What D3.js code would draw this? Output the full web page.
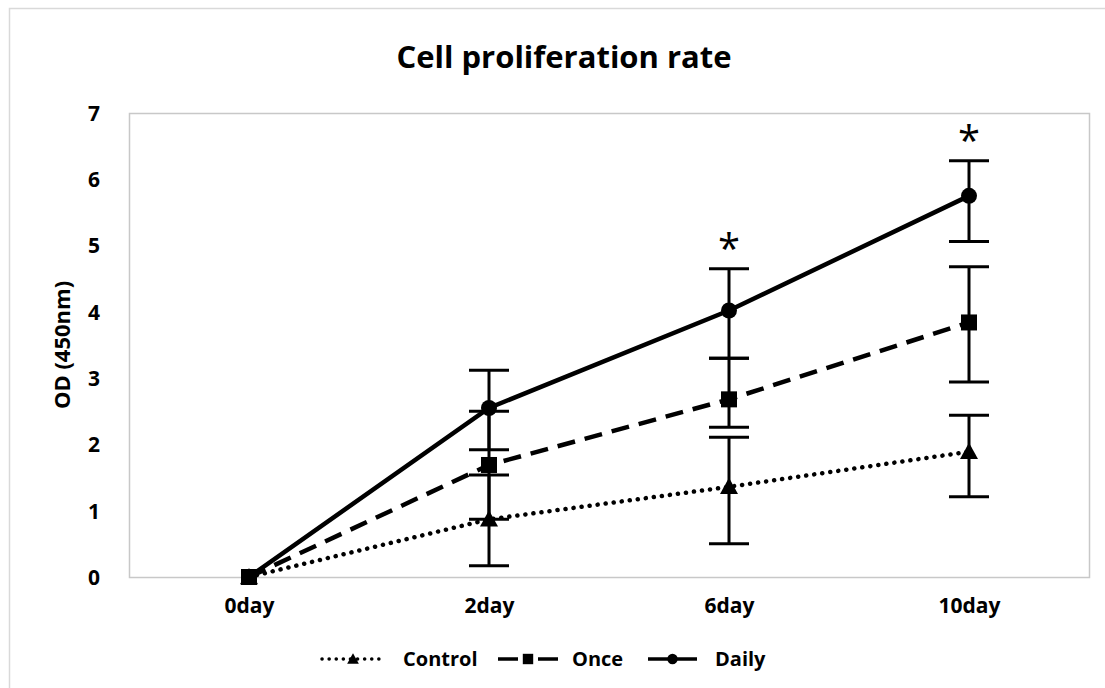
<!DOCTYPE html>
<html>
<head>
<meta charset="utf-8">
<script src="https://cdn.jsdelivr.net/npm/d3@7"></script>
<style>
  html, body { margin: 0; padding: 0; background: #fff; }
  svg { display: block; }
  text { font-family: "Open Sans", "Noto Sans", sans-serif; font-weight: 700; fill: #000; }
</style>
</head>
<body>
<svg id="chart" width="1105" height="688"></svg>
<script>
// ---- data ----
const categories = ["0day", "2day", "6day", "10day"];
const yTicks = [0, 1, 2, 3, 4, 5, 6, 7];

const controlMean = [0, 0.87, 1.36, 1.89];
const controlHigh = [0, 1.54, 2.11, 2.44];
const controlLow  = [0, 0.17, 0.50, 1.21];

const onceMean = [0, 1.69, 2.68, 3.84];
const onceHigh = [0, 2.50, 3.30, 4.68];
const onceLow  = [0, 0.87, 2.26, 2.94];

const dailyMean = [0, 2.55, 4.02, 5.75];
const dailyHigh = [0, 3.12, 4.65, 6.28];
const dailyLow  = [0, 1.92, 3.30, 5.06];

const significance = ["", "", "*", "*"];

const seriesNames = ["Control", "Once", "Daily"];

// ---- layout ----
const svg = d3.select("#chart");
const plot = { left: 129, top: 113, right: 1089, bottom: 577 };

const x = d3.scalePoint().domain(categories).range([plot.left, plot.right]).padding(0.5);
const y = d3.scaleLinear().domain([0, 7]).range([plot.bottom, plot.top]);

// outer border
svg.append("rect").attr("x", 9.5).attr("y", 8.5).attr("width", 1110).attr("height", 700)
  .attr("fill", "none").attr("stroke", "#d9d9d9").attr("stroke-width", 1.5);

// plot area border
svg.append("rect").attr("x", plot.left + 0.5).attr("y", plot.top + 0.5)
  .attr("width", plot.right - plot.left).attr("height", plot.bottom - plot.top)
  .attr("fill", "none").attr("stroke", "#c8c8c8").attr("stroke-width", 1.5);

// title
svg.append("text").attr("x", 564).attr("y", 68).attr("text-anchor", "middle")
  .style("font-size", "31px").text("Cell proliferation rate");

// y axis
const yAxis = d3.axisLeft(y).tickValues(yTicks).tickFormat(d3.format("d")).tickSize(0).tickPadding(29);
const gy = svg.append("g").attr("transform", `translate(${plot.left},0)`).call(yAxis);
gy.select(".domain").remove();
gy.selectAll("text").style("font-size", "21px").attr("dy", "0.35em");

// x axis
const xAxis = d3.axisBottom(x).tickSize(0).tickPadding(21);
const gx = svg.append("g").attr("transform", `translate(0,${plot.bottom})`).call(xAxis);
gx.select(".domain").remove();
gx.selectAll("text").style("font-size", "21px").attr("dy", "0.71em");

// y title
svg.append("text").attr("transform", `translate(70,345) rotate(-90)`)
  .attr("text-anchor", "middle").style("font-size", "22px").text("OD (450nm)");

const series = [
  { name: "Control", mean: controlMean, high: controlHigh, low: controlLow, dash: "0.1 8", legendDash: "0.1 7", cap: "round", marker: "triangle" },
  { name: "Once", mean: onceMean, high: onceHigh, low: onceLow, dash: "18 10", legendDash: "20 20", cap: "butt", marker: "square" },
  { name: "Daily", mean: dailyMean, high: dailyHigh, low: dailyLow, dash: null, legendDash: null, cap: "butt", marker: "circle" }
];

const line = d3.line().x(d => x(d.c)).y(d => y(d.v));
const capHalf = 20;

function drawMarker(g, type, cx, cy, s) {
  if (type === "circle") {
    g.append("circle").attr("cx", cx).attr("cy", cy).attr("r", 8 * s).attr("fill", "#000");
  } else if (type === "square") {
    g.append("rect").attr("x", cx - 8 * s).attr("y", cy - 8 * s).attr("width", 16 * s).attr("height", 16 * s).attr("fill", "#000");
  } else {
    const h = 9 * s;
    g.append("path").attr("d", `M${cx},${cy - h} L${cx + h},${cy + h * 0.8} L${cx - h},${cy + h * 0.8} Z`).attr("fill", "#000");
  }
}

const gSeries = svg.append("g");
series.forEach(s => {
  const g = gSeries.append("g");
  const pts = categories.map((c, i) => ({ c, v: s.mean[i], hi: s.high[i], lo: s.low[i] }));
  // error bars
  pts.forEach(p => {
    if (p.hi === p.lo) return;
    const cx = x(p.c);
    g.append("line").attr("x1", cx).attr("x2", cx).attr("y1", y(p.hi)).attr("y2", y(p.lo))
      .attr("stroke", "#000").attr("stroke-width", 3);
    [p.hi, p.lo].forEach(v => {
      g.append("line").attr("x1", cx - capHalf).attr("x2", cx + capHalf).attr("y1", y(v)).attr("y2", y(v))
        .attr("stroke", "#000").attr("stroke-width", 3);
    });
  });
  // line
  g.append("path").datum(pts).attr("d", line).attr("fill", "none").attr("stroke", "#000")
    .attr("stroke-width", 4.5).attr("stroke-dasharray", s.dash).attr("stroke-linecap", s.cap);
  // markers
  pts.forEach(p => drawMarker(g, s.marker, x(p.c), y(p.v), 1));
});

// significance stars
categories.forEach((c, i) => {
  if (!significance[i]) return;
  svg.append("text").attr("x", x(c)).attr("y", y(dailyHigh[i]) - 6).attr("text-anchor", "middle")
    .style("font-size", "40px").style("font-weight", "400").text(significance[i]);
});

// legend
const legendItems = [
  { s: series[0], x1: 322, x2: 384, tx: 403 },
  { s: series[1], x1: 498, x2: 558, tx: 572 },
  { s: series[2], x1: 648, x2: 697, tx: 715 }
];
const ly = 659;
const lg = svg.append("g");
legendItems.forEach(it => {
  lg.append("line").attr("x1", it.x1).attr("x2", it.x2).attr("y1", ly).attr("y2", ly)
    .attr("stroke", "#000").attr("stroke-width", 3.5)
    .attr("stroke-dasharray", it.s.legendDash)
    .attr("stroke-linecap", it.s.cap);
  drawMarker(lg, it.s.marker, (it.x1 + it.x2) / 2, ly, 0.65);
  lg.append("text").attr("x", it.tx).attr("y", ly).attr("dy", "0.35em").style("font-size", "20px").text(it.s.name);
});
</script>
</body>
</html>
